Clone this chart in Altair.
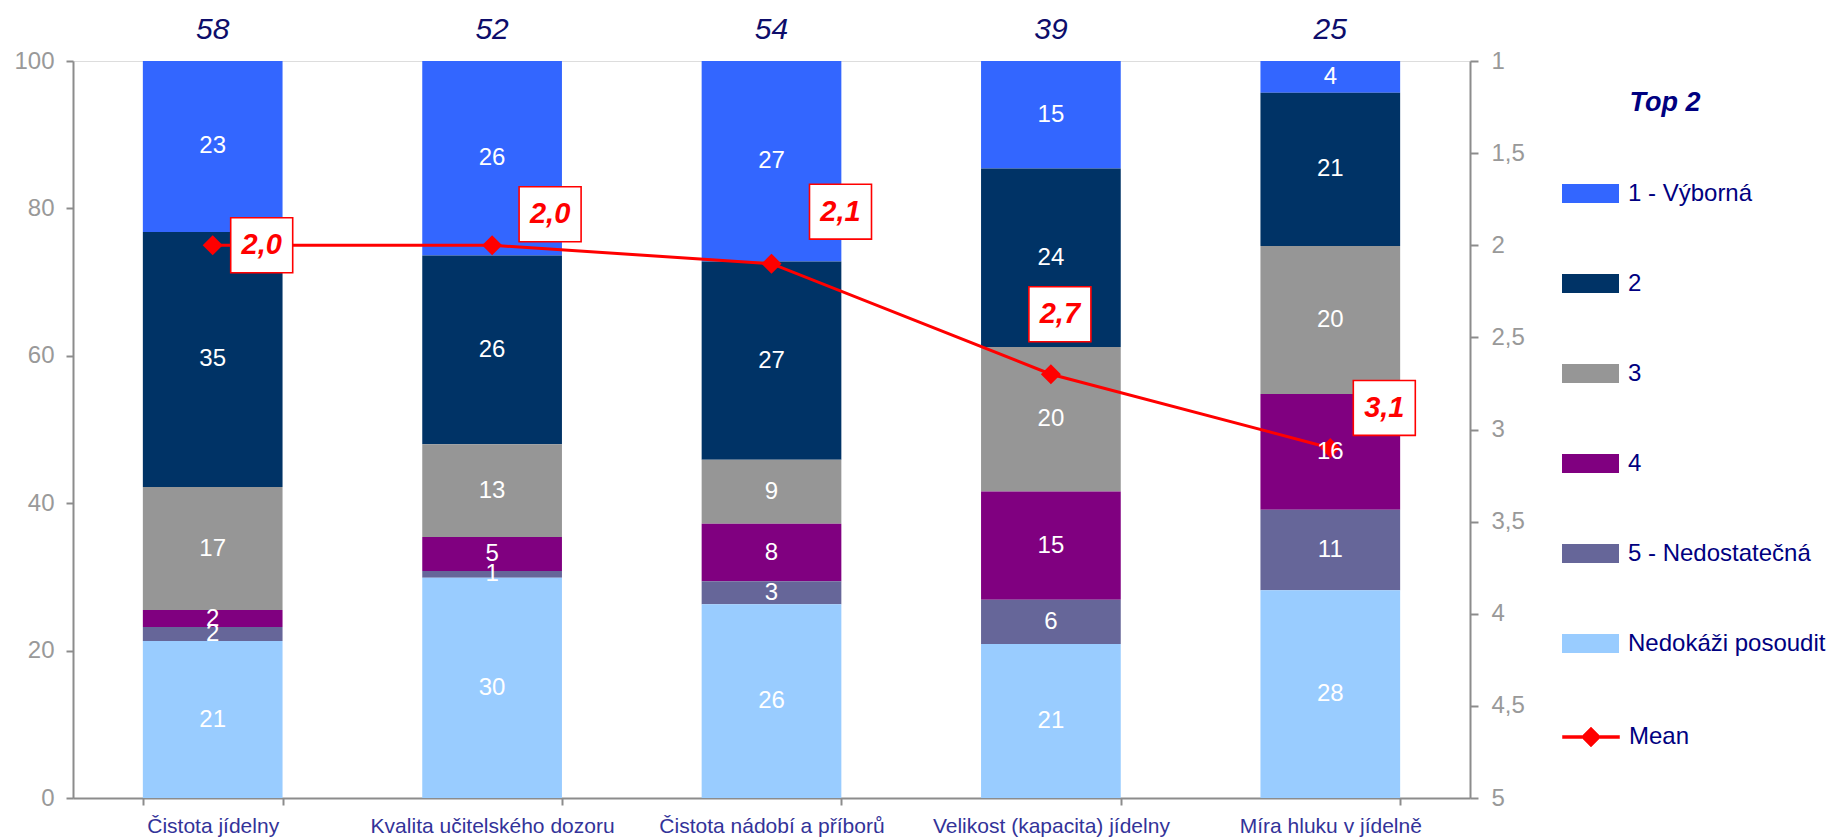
import altair as alt
import pandas as pd

# ---------------- data ----------------
categories = ["Čistota jídelny", "Kvalita učitelského dozoru", "Čistota nádobí a příborů",
              "Velikost (kapacita) jídelny", "Míra hluku v jídelně"]
series = ["1 - Výborná", "2", "3", "4", "5 - Nedostatečná", "Nedokáži posoudit"]

v_1 = [23.2, 26.4, 27.2, 14.6, 4.3]
v_2 = [34.6, 25.6, 26.9, 24.2, 20.8]
v_3 = [16.7, 12.6, 8.7, 19.6, 20.1]
v_4 = [2.3, 4.6, 7.8, 14.7, 15.7]
v_5 = [1.9, 0.9, 3.1, 6.0, 10.9]
v_n = [21.3, 29.9, 26.3, 20.9, 28.2]
means = [2.0, 2.0, 2.1, 2.7, 3.1]
counts = [58, 52, 54, 39, 25]
mean_name = "Mean"
legend_title = "Top 2"

# ---------------- styling ----------------
colors = ["#3366FF", "#003366", "#969696", "#800080", "#666699", "#99CCFF"]
stack_rank = [5, 4, 3, 2, 1, 0]          # 0 = bottom of the stack
label_dx = [49, 58, 69, 9, 54]           # placement of mean labels (px)
label_dy = [0, -31, -52, -60, -40]
FONT = "Liberation Sans"
AXIS_GREY = "#8c8c8c"
RECT_PATH = "M-1,-0.333L1,-0.333L1,0.333L-1,0.333Z"
MEAN_PATH = ("M-1,-0.053L-0.297,-0.053L0,-0.35L0.297,-0.053L1,-0.053L1,0.053"
             "L0.297,0.053L0,0.35L-0.297,0.053L-1,0.053Z")

series_vals = [v_1, v_2, v_3, v_4, v_5, v_n]
rows = []
for s_i, s in enumerate(series):
    for c_i, c in enumerate(categories):
        rows.append({"cat": c, "series": s, "value": series_vals[s_i][c_i], "rank": stack_rank[s_i]})
bars_df = pd.DataFrame(rows)
mean_df = pd.DataFrame({"cat": categories, "mean": means, "n": counts,
                        "lname": [mean_name] * len(categories)})

left_scale = alt.Scale(domain=[0, 100], nice=False)
right_scale = alt.Scale(domain=[1, 5], reverse=True, nice=False, zero=False)

x_enc = alt.X("cat:N", sort=categories,
              scale=alt.Scale(paddingInner=0.5, paddingOuter=0.25),
              axis=alt.Axis(title=None, labelAngle=0, labelFontSize=21, labelFont=FONT,
                            labelColor="#333399", domainColor=AXIS_GREY, domainWidth=2,
                            tickColor=AXIS_GREY, tickWidth=2, tickSize=7, tickBand="extent",
                            labelPadding=10, labelLimit=0))

stacked = alt.Chart(bars_df).transform_stack(
    stack="value", groupby=["cat"], as_=["y0", "y1"], sort=[alt.SortField("rank", order="ascending")]
).transform_calculate(mid="(datum.y0 + datum.y1) / 2", lab="format(round(datum.value), 'd')")

y_left = alt.Y("y0:Q", scale=left_scale,
               axis=alt.Axis(title=None, values=[0, 20, 40, 60, 80, 100], grid=False,
                             labelFontSize=24, labelFont=FONT, labelColor="#999999",
                             domainColor=AXIS_GREY, domainWidth=2, tickColor=AXIS_GREY,
                             tickWidth=2, tickSize=7, labelPadding=12))

fill_legend = alt.Legend(
    orient="none", legendX=1489, legendY=29, title="\u200b" + "\u00a0" * 9 + legend_title,
    titleFont=FONT, titleFontSize=27, titleFontWeight="bold", titleFontStyle="italic",
    titleColor="#000080", titlePadding=48, titleLimit=0,
    labelFont=FONT, labelFontSize=24, labelColor="#000080", labelOffset=9, labelLimit=0,
    symbolType=RECT_PATH, symbolSize=3249, rowPadding=49, padding=0,
    symbolStrokeWidth=0, symbolOpacity=1)

stroke_legend = alt.Legend(
    orient="none", legendX=1489, legendY=647, title=None,
    labelFont=FONT, labelFontSize=24, labelColor="#000080", labelOffset=9, labelLimit=0,
    symbolType=MEAN_PATH, symbolSize=3249, symbolFillColor="#FF0000",
    symbolStrokeColor="#FF0000", symbolStrokeWidth=0.5, symbolOpacity=1, padding=0)

bars = stacked.mark_bar().encode(
    x=x_enc, y=y_left, y2="y1:Q",
    fill=alt.Fill("series:N", scale=alt.Scale(domain=series, range=colors), legend=fill_legend))

bar_labels = stacked.mark_text(color="white", fontSize=24, font=FONT, baseline="middle").encode(
    x=alt.X("cat:N", sort=categories), y=alt.Y("mid:Q", scale=left_scale, axis=None), text="lab:N")

top_labels = alt.Chart(mean_df).mark_text(
    dy=-31, fontSize=30, font=FONT, fontStyle="italic", color="#0d0d6b", baseline="middle"
).encode(x=alt.X("cat:N", sort=categories), y=alt.datum(100), text="n:Q")

y_right = alt.Y("mean:Q", scale=right_scale,
                axis=alt.Axis(title=None, orient="right", values=[1, 1.5, 2, 2.5, 3, 3.5, 4, 4.5, 5],
                              labelExpr="replace(toString(datum.value), '.', ',')", grid=False,
                              labelFontSize=24, labelFont=FONT, labelColor="#999999",
                              domainColor=AXIS_GREY, domainWidth=2, tickColor=AXIS_GREY,
                              tickWidth=2, tickSize=8, labelPadding=13))

mbase = alt.Chart(mean_df).transform_calculate(
    mlab="replace(format(datum.mean, '.1f'), '.', ',')")

line = mbase.mark_line(strokeWidth=3).encode(
    x=alt.X("cat:N", sort=categories), y=y_right,
    stroke=alt.Stroke("lname:N", scale=alt.Scale(domain=[mean_name], range=["#FF0000"]),
                      legend=stroke_legend))
points = mbase.mark_point(shape="diamond", filled=True, size=400, color="#FF0000", opacity=1).encode(
    x=alt.X("cat:N", sort=categories), y=alt.Y("mean:Q"))

y_box = alt.Y("mean:Q", scale=right_scale, axis=None)
box_layers = []
for i, c in enumerate(categories):
    sub = mbase.transform_filter(alt.datum.cat == c)
    box_layers.append(sub.mark_point(
        shape="M-1,-0.887L1,-0.887L1,0.887L-1,0.887Z", size=3844, filled=True,
        fill="white", stroke="#FF0000", strokeWidth=1.6, opacity=1,
        xOffset=label_dx[i], yOffset=label_dy[i]
    ).encode(x=alt.X("cat:N", sort=categories), y=y_box))
    box_layers.append(sub.mark_text(
        fontSize=29, font=FONT, fontWeight="bold", fontStyle="italic", color="#FF0000",
        baseline="middle", xOffset=label_dx[i], yOffset=label_dy[i]
    ).encode(x=alt.X("cat:N", sort=categories), y=y_box, text="mlab:N"))

left = alt.layer(bars, top_labels)
right = alt.layer(line, points)
right_labels = alt.layer(*box_layers)

chart = alt.layer(
    left, right, alt.layer(bar_labels), right_labels
).resolve_scale(y="independent").properties(
    width=1397, height=737,
    padding={"left": 5, "top": 7, "right": 0, "bottom": 5}
).configure_view(stroke=None).configure(background="white")

chart.save("out.html", embed_options={"renderer": "svg", "actions": False})
